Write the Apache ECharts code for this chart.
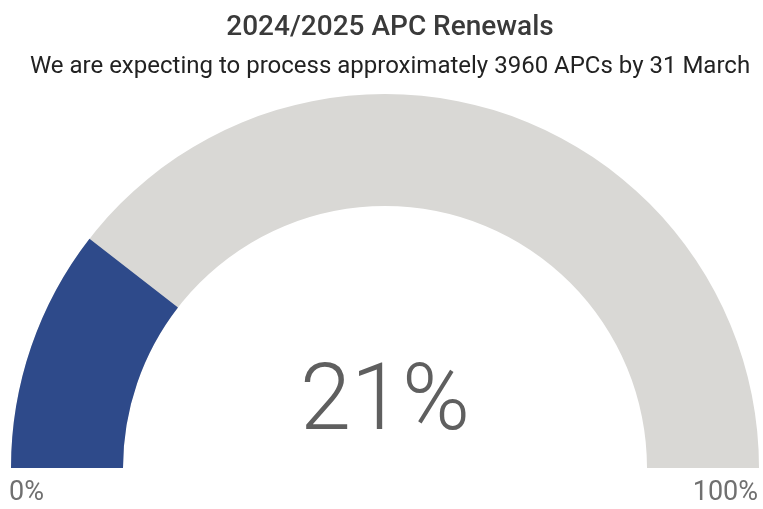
<!DOCTYPE html>
<html>
<head>
<meta charset="utf-8">
<script src="https://cdn.jsdelivr.net/npm/echarts@6/dist/echarts.min.js"></script>
<style>
html, body { margin: 0; padding: 0; background: #fff; }
#main { width: 763px; height: 509px; }
</style>
</head>
<body>
<div id="main"></div>
<script>
var titleText = '2024/2025 APC Renewals';
var subtitleText = 'We are expecting to process approximately 3960 APCs by 31 March';
var gaugeMin = 0;
var gaugeMax = 100;
var gaugeValue = [21];
var minLabel = '0%';
var maxLabel = '100%';

var chart = echarts.init(document.getElementById('main'));
var option = {
    backgroundColor: '#fff',
    title: {
        text: titleText,
        subtext: subtitleText,
        left: 385,
        textAlign: 'center',
        top: 9,
        itemGap: 13,
        textStyle: { fontFamily: 'Roboto', fontSize: 28, fontWeight: 500, color: '#3a3a3a' },
        subtextStyle: { fontFamily: 'Roboto', fontSize: 24, color: '#222' }
    },
    series: [{
        type: 'gauge',
        center: [385, 468],
        radius: 374,
        startAngle: 180,
        endAngle: 0,
        min: gaugeMin,
        max: gaugeMax,
        progress: { show: true, width: 112, itemStyle: { color: '#2e4a8a' } },
        axisLine: { lineStyle: { width: 112, color: [[1, '#d9d8d5']] } },
        pointer: { show: false },
        axisTick: { show: false },
        splitLine: { show: false },
        axisLabel: { show: false },
        anchor: { show: false },
        title: { show: false },
        detail: {
            offsetCenter: [0, -62],
            valueAnimation: false,
            formatter: '{value}%',
            fontFamily: 'Roboto',
            fontWeight: 300,
            fontSize: 92,
            color: '#5f5f5f'
        },
        data: [{ value: gaugeValue[0] }]
    }],
    graphic: [
        { type: 'text', left: 9, top: 480, style: { text: minLabel, font: '27px Roboto', fill: '#707070' } },
        { type: 'text', right: 5, top: 480, style: { text: maxLabel, font: '27px Roboto', fill: '#707070' } }
    ]
};
chart.setOption(option);
</script>
</body>
</html>
